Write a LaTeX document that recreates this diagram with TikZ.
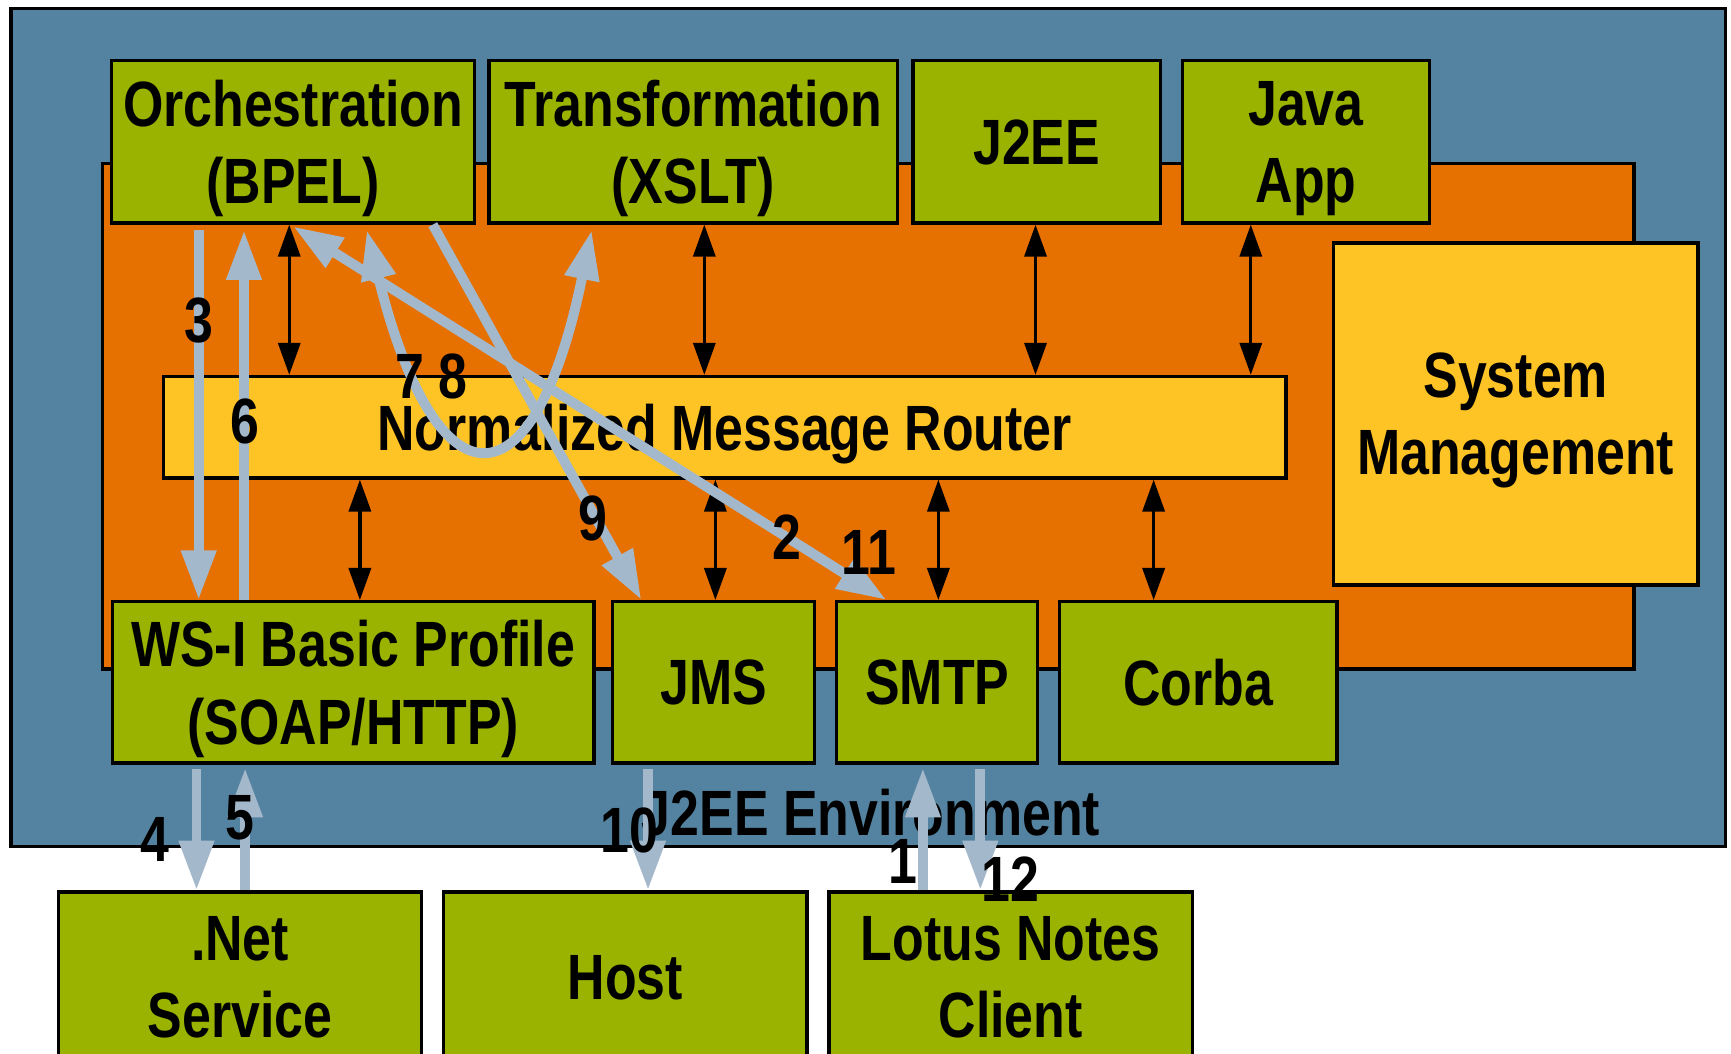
\documentclass[tikz,border=0pt]{standalone}
\usepackage{fontspec}
\setmainfont{Liberation Sans}[FakeStretch=0.81]
\usetikzlibrary{arrows.meta}
\definecolor{envblue}{HTML}{5483A1}
\definecolor{busorange}{HTML}{E67000}
\definecolor{compgreen}{HTML}{99B300}
\definecolor{routeryellow}{HTML}{FEC426}
\definecolor{flowblue}{HTML}{A4B8CC}

\begin{document}
\begin{tikzpicture}[x=0.5pt,y=-0.5pt,
  every node/.style={font=\bfseries\fontsize{29}{35}\selectfont},
  panel/.style={draw=black,line width=1.5pt},
  comp/.style={panel,fill=compgreen,align=center,inner sep=0pt,text depth=0pt},
  core/.style={panel,fill=routeryellow,align=center,inner sep=0pt,text depth=0pt},
  link/.style={draw=black,line width=1.5pt,
    {Triangle[length=14.5pt,width=10pt]}-{Triangle[length=14.5pt,width=10pt]}},
  flow/.style={draw=flowblue,line width=4.5pt,
    -{Triangle[length=22.5pt,width=15pt]}},
  flowboth/.style={draw=flowblue,line width=4.5pt,
    {Triangle[length=22.5pt,width=15pt]}-{Triangle[length=22.5pt,width=15pt]}},
  num/.style={inner sep=0pt}]

\useasboundingbox (0,0) rectangle (1568,954);
\fill[white] (0,0) rectangle (1568,954);

% environment and bus panels
\path[panel,fill=envblue] (10,8) rectangle (1563,767);
\path[panel,fill=busorange] (93,148) rectangle (1480,606);
\node[anchor=base] (envlabel) at (789,757) {J2EE Environment};

% top row of service engines
\node[comp,minimum width=164.5pt,minimum height=73.5pt] (orch)  at (265.5,128.5) {Orchestration\\(BPEL)};
\node[comp,minimum width=185pt,minimum height=73.5pt]   (trans) at (628,128.5)   {Transformation\\(XSLT)};
\node[comp,minimum width=112pt,minimum height=73.5pt]   (j2ee)  at (939,128.5)   {J2EE};
\node[comp,minimum width=112pt,minimum height=73.5pt]   (java)  at (1183,128.5)  {Java\\App};

% router and management
\node[core,minimum width=508.5pt,minimum height=46pt] (nmr)  at (656.5,387) {Normalized Message Router};
\node[core,minimum width=165pt,minimum height=155pt]  (sysm) at (1373,375)  {System\\Management};

% binding components
\node[comp,minimum width=218pt,minimum height=73pt]  (wsi)   at (320,618)    {WS-I Basic Profile\\(SOAP/HTTP)};
\node[comp,minimum width=91.5pt,minimum height=73pt] (jms)   at (646.5,618)  {JMS};
\node[comp,minimum width=91pt,minimum height=73pt]   (smtp)  at (849,618)    {SMTP};
\node[comp,minimum width=125.5pt,minimum height=73pt] (corba) at (1085.5,618) {Corba};

% external systems
\node[comp,minimum width=164.5pt,minimum height=77pt] (net)   at (217.5,885) {.Net\\Service};
\node[comp,minimum width=164.5pt,minimum height=77pt] (host)  at (566.5,885) {Host};
\node[comp,minimum width=164.5pt,minimum height=77pt] (lotus) at (915.5,885) {Lotus Notes\\Client};

% router connections
\draw[link] (262,0 |- orch.south)  -- (262,0 |- nmr.north);
\draw[link] (638,0 |- trans.south) -- (638,0 |- nmr.north);
\draw[link] (938,0 |- j2ee.south)  -- (938,0 |- nmr.north);
\draw[link] (1133,0 |- java.south) -- (1133,0 |- nmr.north);
\draw[link] (326,0 |- nmr.south) -- (326,0 |- wsi.north);
\draw[link] (648,0 |- nmr.south) -- (648,0 |- jms.north);
\draw[link] (850,0 |- nmr.south) -- (850,0 |- smtp.north);
\draw[link] (1045,0 |- nmr.south) -- (1045,0 |- corba.north);

% message flow
\draw[flow,shorten <=2.5pt] (180,0 |- orch.south) -- (180,0 |- wsi.north);
\draw[flow,shorten >=2.5pt] (221,0 |- wsi.north) -- (221,0 |- orch.south);
\draw[flow,shorten <=2pt] (178,0 |- wsi.south) -- (178,0 |- net.north);
\draw[flow,shorten >=1.5pt] (222,0 |- net.north) -- (222,0 |- wsi.south);
\draw[flow,shorten <=2pt] (587,0 |- jms.south) -- (587,0 |- host.north);
\draw[flow,shorten >=1.5pt] (836,0 |- lotus.north) -- (836,0 |- smtp.south);
\draw[flow,shorten <=2pt] (888,0 |- smtp.south) -- (888,0 |- lotus.north);
\draw[flow] (392,0 |- orch.south) -- (581,0 |- jms.north);
\draw[flowboth,shorten <=1.5pt] (263,0 |- orch.south) -- (803,0 |- smtp.north);
\draw[flowboth,shorten <=2.5pt,shorten >=2.5pt] (331,0 |- orch.south)
  .. controls (395,464) and (484,464) .. (537,0 |- trans.south);

% step numbers
\node[num] (s1)  at (818,780) {1};
\node[num] (s2)  at (713,487) {2};
\node[num] (s3)  at (180,290) {3};
\node[num] (s4)  at (140,760) {4};
\node[num] (s5)  at (217,741) {5};
\node[num] (s6)  at (222,382) {6};
\node[num] (s7)  at (371,341) {7};
\node[num] (s8)  at (410,341) {8};
\node[num] (s9)  at (537,470) {9};
\node[num] (s10) at (570,752) {10};
\node[num] (s11) at (787,500) {11};
\node[num] (s12) at (915,796) {12};
\end{tikzpicture}
\end{document}
